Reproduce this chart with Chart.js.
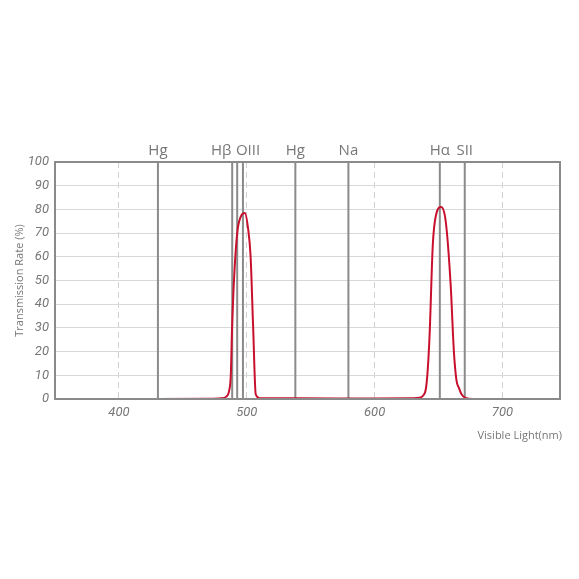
<!DOCTYPE html><html><head><meta charset="utf-8">
<script src="https://cdn.jsdelivr.net/npm/chart.js@4"></script>
<style>body{margin:0;background:#fff}#w{width:579px;height:579px}</style></head><body><div id="w"><canvas id="c"></canvas></div>
<script>
const wavelengths=[350,430,470,480,484,486,487.5,488.5,490,492.5,495,498.5,501,503,505,507,510,540,600,630,635,638,640,641.5,643,645.5,648,652,655.6,659.5,662,664,666,668,671,677,700,745];
const transmission=[0,0,0.1,0.3,1,3,10,30,50,70,76.5,78.5,72,60,30,2,0.3,0.3,0.2,0.3,0.5,1.5,4,12,27,65,77.6,81,75,48,20,8,4.6,2,0.5,0,0,0];
const lineNames=["Hg","Hβ","OIII","Hg","Na","Hα","SII"];
const linePositions=[430.5,488.6,[492.5,497],538,579.5,651,670.5];
const xTicks=[400,500,600,700];
const yTicks=[0,10,20,30,40,50,60,70,80,90,100];
const grey='#8a8a8a';
const labelShift=[0,-11,8,0,0,0,0];
const datasets=[{data:wavelengths.map((x,i)=>({x,y:transmission[i]})),borderColor:'#c8102e',borderWidth:2,pointRadius:0,tension:0.4,cubicInterpolationMode:'monotone',order:0}];
linePositions.flat().forEach(p=>datasets.push({data:[{x:p,y:0},{x:p,y:100}],borderColor:grey,borderWidth:2,pointRadius:0,order:1}));
const labelPlugin={id:'lbl',afterDraw(ch){const c=ch.ctx,x=ch.scales.x,a=ch.chartArea;c.save();c.fillStyle='#777';c.font='15px "Open Sans"';c.textAlign='center';c.textBaseline='bottom';
lineNames.forEach((n,i)=>{const p=linePositions[i];const v=Array.isArray(p)?(p[0]+p[1])/2:p;c.fillText(n,x.getPixelForValue(v)+labelShift[i],a.top-4);});
c.font='11px "Open Sans"';c.textAlign='right';c.textBaseline='middle';c.fillText('Visible Light(nm)',562,436);
c.translate(20,(a.top+a.bottom)/2);c.rotate(-Math.PI/2);c.textAlign='center';c.fillText('Transmission Rate (%)',0,0);c.restore();}};
const framePlugin={id:'frame',afterDatasetsDraw(ch){const c=ch.ctx,a=ch.chartArea;c.save();c.strokeStyle=grey;c.lineWidth=2;c.strokeRect(a.left,a.top,a.right-a.left,a.bottom-a.top);c.restore();}};
new Chart(document.getElementById('c'),{type:'line',data:{datasets},plugins:[labelPlugin,framePlugin],options:{responsive:true,maintainAspectRatio:false,animation:false,
layout:{padding:{top:162,right:19,left:0,bottom:0}},plugins:{legend:{display:false},tooltip:{enabled:false}},
scales:{x:{type:'linear',min:350,max:745,afterFit(s){s.height=180},afterBuildTicks(s){s.ticks=xTicks.map(v=>({value:v}))},
ticks:{color:'#777',font:{family:'Roboto',size:13,style:'italic'},padding:6},
grid:{color:'#d0d0d0',lineWidth:1,drawTicks:false},border:{dash:[6,4],display:false}},
y:{min:0,max:100,afterFit(s){s.width=55},afterBuildTicks(s){s.ticks=yTicks.map(v=>({value:v}))},ticks:{color:'#777',font:{family:'Roboto',size:13,style:'italic'},padding:6},
grid:{color:'#d8d8d8',drawTicks:false},border:{display:false}}}}});
</script></body></html>
